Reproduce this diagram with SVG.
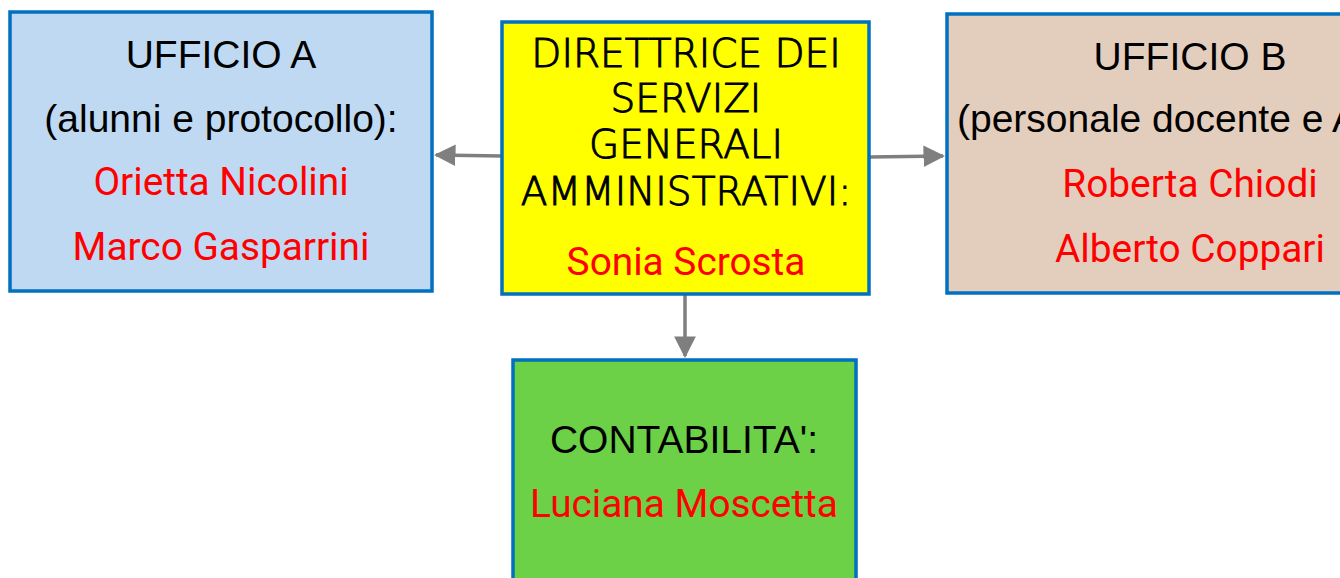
<svg xmlns="http://www.w3.org/2000/svg" width="1340" height="578" viewBox="0 0 1340 578">
<style>
.box{stroke:#0070c0;stroke-width:3.5}
.lbl{font-family:"Liberation Sans",Arial,sans-serif;font-size:39px;fill:#000;text-anchor:middle}
.name{font-family:Roboto,"Liberation Sans",sans-serif;font-size:38.8px;fill:#ff0000;text-anchor:middle}
.ttl{font-family:"DejaVu Sans",sans-serif;font-weight:200;font-size:39px;fill:#000;stroke:#000;stroke-width:1;text-anchor:middle}
.conn{stroke:#7f7f7f;stroke-width:3.5;fill:none;marker-end:url(#ah)}
</style>
<defs>
<marker id="ah" viewBox="0 0 10 10" refX="9" refY="5" markerWidth="6.2" markerHeight="6.2" markerUnits="strokeWidth" orient="auto">
<path d="M0,0 L10,5 L0,10 z" fill="#7f7f7f"/>
</marker>
</defs>
<rect width="1340" height="578" fill="#fff"/>
<g id="connectors">
<path class="conn" d="M502,156 L436,155"/>
<path class="conn" d="M869,157 L943,156"/>
<path class="conn" d="M685,294 L685,356"/>
</g>
<g id="ufficio-a">
<rect class="box" x="10" y="12" width="422" height="279" fill="#bfd9f2"/>
<text class="lbl" x="221" y="68">UFFICIO A</text>
<text class="lbl" x="221" y="132">(alunni e protocollo):</text>
<text class="name" x="221" y="195">Orietta Nicolini</text>
<text class="name" x="221" y="260">Marco Gasparrini</text>
</g>
<g id="direttrice">
<rect class="box" x="502" y="22" width="367" height="272" fill="#ffff00"/>
<text class="ttl" x="686" y="67">DIRETTRICE DEI</text>
<text class="ttl" x="686" y="112">SERVIZI</text>
<text class="ttl" x="686" y="158">GENERALI</text>
<text class="ttl" x="686" y="205">AMMINISTRATIVI:</text>
<text class="name" x="686" y="275">Sonia Scrosta</text>
</g>
<g id="ufficio-b">
<rect class="box" x="947" y="14" width="420" height="279" fill="#e3cebd"/>
<text class="lbl" x="1190" y="70">UFFICIO B</text>
<text class="lbl" x="957" y="132" style="text-anchor:start">(personale docente e ATA):</text>
<text class="name" x="1190" y="197">Roberta Chiodi</text>
<text class="name" x="1190" y="262">Alberto Coppari</text>
</g>
<g id="contabilita">
<rect class="box" x="513" y="360" width="343" height="240" fill="#6cd146"/>
<text class="lbl" x="684" y="453">CONTABILITA':</text>
<text class="name" x="684" y="517">Luciana Moscetta</text>
</g>
</svg>
